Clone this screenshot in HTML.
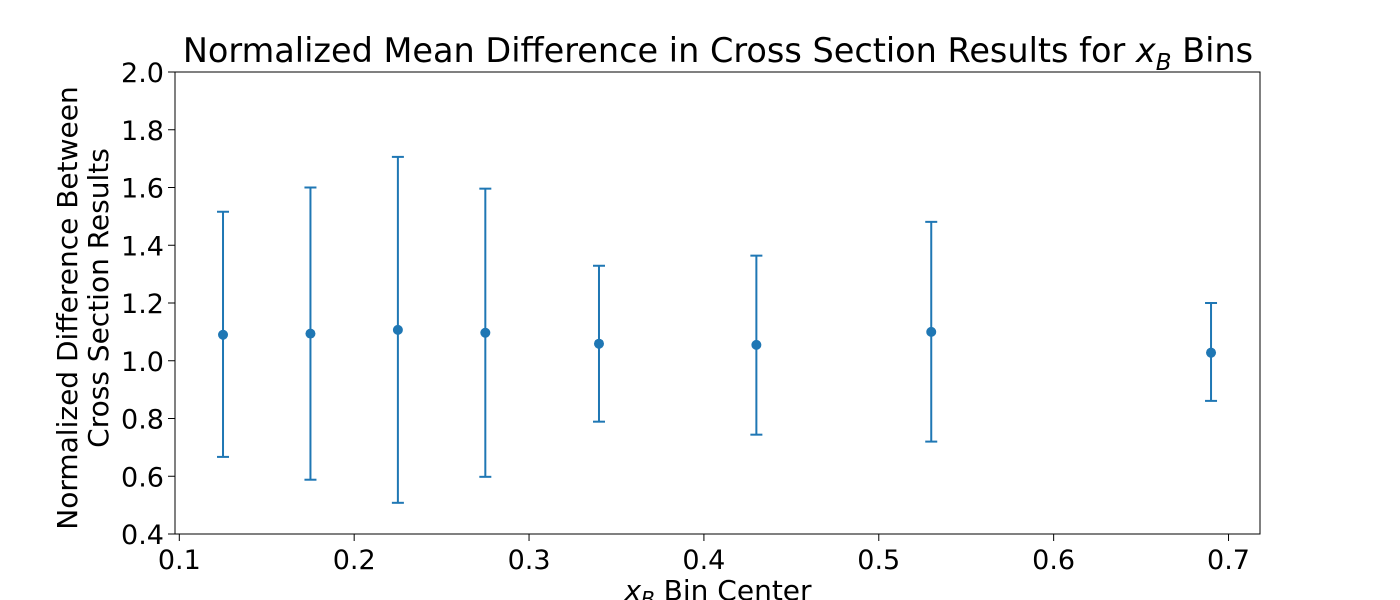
<!DOCTYPE html>
<html><head><meta charset="utf-8"><style>
body{margin:0;background:#fff;}
svg{display:block;font-family:"DejaVu Sans","Liberation Sans",sans-serif;}
</style></head><body>
<svg id="chart" width="1400" height="600">
<rect x="175" y="72" width="1085" height="462" fill="none" stroke="#000" stroke-width="1"/>
<text x="718" y="62" font-size="33.5" text-anchor="middle">Normalized Mean Difference in Cross Section Results for <tspan font-style="italic">x</tspan><tspan font-style="italic" font-size="23" dy="8">B</tspan><tspan dy="-8"> Bins</tspan></text>
<text transform="translate(77,308) rotate(-90)" font-size="28" text-anchor="middle">Normalized Difference Between</text>
<text transform="translate(108,298) rotate(-90)" font-size="28" text-anchor="middle">Cross Section Results</text>
<text x="718" y="600" font-size="28" text-anchor="middle"><tspan font-style="italic">x</tspan><tspan font-style="italic" font-size="20" dy="6">B</tspan><tspan dy="-6"> Bin Center</tspan></text>
<g id="axes"></g><g id="marks"></g>
</svg>
<script>
const xCenters=[0.125,0.175,0.225,0.275,0.34,0.43,0.53,0.69];
const means=[1.09,1.094,1.107,1.097,1.059,1.055,1.10,1.028];
const upper=[1.516,1.60,1.706,1.596,1.329,1.364,1.481,1.20];
const lower=[0.667,0.588,0.508,0.598,0.789,0.744,0.72,0.861];
const xTicks=[0.1,0.2,0.3,0.4,0.5,0.6,0.7];
const yTicks=[0.4,0.6,0.8,1.0,1.2,1.4,1.6,1.8,2.0];
const NS="http://www.w3.org/2000/svg";
const xs=v=>179.3+(v-0.1)*1748.7;
const ys=v=>534-(v-0.4)*288.75;
const axes=document.getElementById('axes'),marks=document.getElementById('marks');
function mk(t,a,p){const e=document.createElementNS(NS,t);for(const k in a)e.setAttribute(k,a[k]);p.appendChild(e);return e;}
xTicks.forEach(v=>{
 const l=mk('line',{x1:xs(v),x2:xs(v),y1:534,y2:541,stroke:'#000'},axes);
 
 
 const t=mk('text',{x:xs(v),y:569,'font-size':27,'text-anchor':'middle'},axes);t.textContent=v.toFixed(1);
 
 
});
yTicks.forEach(v=>{
 const l=mk('line',{x1:168,x2:175,y1:ys(v),y2:ys(v),stroke:'#000'},axes);
 
 
 const t=mk('text',{x:164,y:ys(v)+10,'font-size':27,'text-anchor':'end'},axes);t.textContent=v.toFixed(1);
 
 
});
xCenters.forEach((x,i)=>{
 const c='#1f77b4',X=xs(x);
 const g=mk('g',{},marks);
 
 
 mk('line',{x1:X,x2:X,y1:ys(upper[i]),y2:ys(lower[i]),stroke:c,'stroke-width':2},g);
 mk('line',{x1:X-6,x2:X+6,y1:ys(upper[i]),y2:ys(upper[i]),stroke:c,'stroke-width':2},g);
 mk('line',{x1:X-6,x2:X+6,y1:ys(lower[i]),y2:ys(lower[i]),stroke:c,'stroke-width':2},g);
 mk('circle',{cx:X,cy:ys(means[i]),r:5,fill:c},g);
});
</script>
</body></html>
